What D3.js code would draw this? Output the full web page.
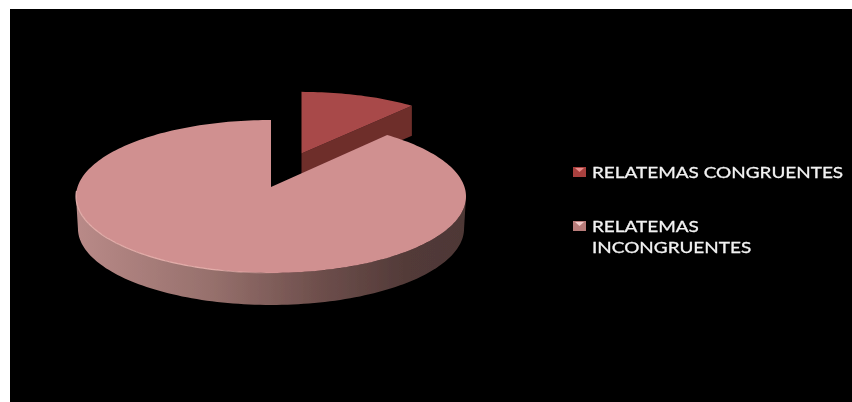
<!DOCTYPE html>
<html>
<head>
<meta charset="utf-8">
<script src="https://cdn.jsdelivr.net/npm/d3@7"></script>
<style>
  html, body { margin: 0; padding: 0; background: #fff; overflow: hidden; }
  svg { display: block; }
</style>
</head>
<body>
<script>
// data
const categories = ["RELATEMAS CONGRUENTES", "RELATEMAS INCONGRUENTES"];
const values = [11.4, 88.6];
const legendLines = [["RELATEMAS CONGRUENTES"], ["RELATEMAS", "INCONGRUENTES"]];
const topColors = ["#a84a48", "#d09090"];
const markerColors = ["#a8403e", "#b87c7a"];
const markerLights = ["#e88a88", "#f2cccb"];
const wallColor = "#6e2e2c";

const w = 852;
const h = 402;

const svg = d3.select("body").append("svg")
    .attr("width", w)
    .attr("height", h);

const defs = svg.append("defs");

// rim shading of the big slice, light on the left and dark on the right
const rim = defs.append("linearGradient").attr("id", "rim");
rim.append("stop").attr("offset", "0%").attr("stop-color", "#b98a88");
rim.append("stop").attr("offset", "35%").attr("stop-color", "#96706c");
rim.append("stop").attr("offset", "62%").attr("stop-color", "#6e4f4c");
rim.append("stop").attr("offset", "85%").attr("stop-color", "#523a38");
rim.append("stop").attr("offset", "100%").attr("stop-color", "#4e3836");

const bevel = defs.append("linearGradient").attr("id", "bevel");
bevel.append("stop").attr("offset", "0%").attr("stop-color", "#eab4b0").attr("stop-opacity", 0.9);
bevel.append("stop").attr("offset", "70%").attr("stop-color", "#eab4b0").attr("stop-opacity", 0.9);
bevel.append("stop").attr("offset", "100%").attr("stop-color", "#eab4b0").attr("stop-opacity", 0);

const soft = defs.append("filter").attr("id", "soft");
soft.append("feGaussianBlur").attr("stdDeviation", 0.45);

const softText = defs.append("filter").attr("id", "softText");
softText.append("feGaussianBlur").attr("stdDeviation", 0.3);

// background
svg.append("rect")
    .attr("x", 10).attr("y", 9)
    .attr("width", w - 10).attr("height", h - 9)
    .attr("fill", "#000");

// perspective of the tilted disc: v=1 is the back edge, v=-1 the front edge
const tilt = 0.124;
const discX = 193.5;
const discY = 75.3;

function project(angle, c, sx, sy, drop) {
    const u = Math.sin(angle), v = Math.cos(angle);
    const k = 1 + tilt * v;
    return [c.x + sx * discX * u / k, c.y + drop - sy * discY * v / k];
}

const pie = d3.pie().sort(null);
const arcs = pie(values);
const line = d3.line();

// samples an arc of the rim between two angles
function rimPoints(a0, a1, c, sx, sy, drop) {
    const n = Math.max(2, Math.ceil(Math.abs(a1 - a0) * 40));
    return d3.range(n + 1).map(i => project(a0 + (a1 - a0) * i / n, c, sx, sy, drop));
}

const depth = 30;
const small = { arc: arcs[0], c: { x: 301.5, y: 153.5 }, sx: 0.95, sy: 0.92 };
const big = { arc: arcs[1], c: { x: 271, y: 187 }, sx: 1, sy: 1 };

const chart = svg.append("g").attr("filter", "url(#soft)");

// small slice: cut wall first, the big slice covers the rest
chart.append("path")
    .attr("fill", wallColor)
    .attr("d", line([
        [small.c.x, small.c.y],
        project(small.arc.endAngle, small.c, small.sx, small.sy, 0),
        project(small.arc.endAngle, small.c, small.sx, small.sy, depth),
        [small.c.x, small.c.y + depth]
    ]) + "Z");

chart.append("path")
    .attr("fill", topColors[0])
    .attr("d", line([[small.c.x, small.c.y]].concat(
        rimPoints(small.arc.startAngle, small.arc.endAngle, small.c, small.sx, small.sy, 0)
    )) + "Z");

// big slice rim: only the part of the rim that faces the viewer
const rimStart = Math.PI / 2 + Math.asin(tilt);
const rimEnd = 3 * Math.PI / 2 - Math.asin(tilt);
const rimTop = rimPoints(rimStart, rimEnd, big.c, 1, 1, 0);
const rimBottom = rimPoints(rimEnd, rimStart, big.c, 0.99, 1, depth + 2);

rim.attr("gradientUnits", "userSpaceOnUse")
    .attr("x1", project(rimEnd, big.c, 1, 1, 0)[0])
    .attr("x2", project(rimStart, big.c, 1, 1, 0)[0])
    .attr("y1", 0).attr("y2", 0);

chart.append("path")
    .attr("fill", "url(#rim)")
    .attr("d", line(rimTop.concat(rimBottom)) + "Z");

// big slice top
const bigOutline = [[big.c.x, big.c.y]].concat(
    rimPoints(big.arc.startAngle, big.arc.endAngle, big.c, 1, 1, 0));

chart.append("path")
    .attr("fill", topColors[1])
    .attr("d", line(bigOutline) + "Z");

// thin bevel highlight along the lower left of the rim, fading towards the front
chart.append("path")
    .attr("fill", "none")
    .attr("stroke", "url(#bevel)")
    .attr("stroke-width", 1.2)
    .attr("d", line(rimPoints(3 * Math.PI / 2 - 0.05, Math.PI - 0.05, big.c, 1, 1, 0)));

// legend
const legendX = 573;
const textX = 592;
const textStretch = 1.185;
const rowY = d3.scalePoint().domain(categories).range([178, 232]);
const lineHeight = 21;

const legend = svg.append("g").selectAll("g")
    .data(categories)
    .join("g")
    .attr("transform", d => "translate(0," + rowY(d) + ")");

legend.append("rect")
    .attr("x", legendX).attr("y", -11)
    .attr("width", 13).attr("height", 10)
    .attr("fill", (d, i) => markerColors[i]);

legend.append("path")
    .attr("fill", (d, i) => markerLights[i])
    .attr("d", line([[legendX + 2, -10], [legendX + 11, -10], [legendX + 6.5, -6]]) + "Z");

legend.each(function (d, i) {
    d3.select(this).selectAll("text")
        .data(legendLines[i])
        .join("text")
        .attr("transform", (t, j) => "translate(" + textX + "," + (j * lineHeight) + ") scale(" + textStretch + ",1)")
        .attr("font-family", "Lato, sans-serif")
        .attr("font-size", 16)
        .attr("fill", "#f2f2f2")
        .attr("stroke", "#f2f2f2")
        .attr("stroke-width", 0.3)
        .attr("filter", "url(#softText)")
        .text(t => t);
});
</script>
</body>
</html>
